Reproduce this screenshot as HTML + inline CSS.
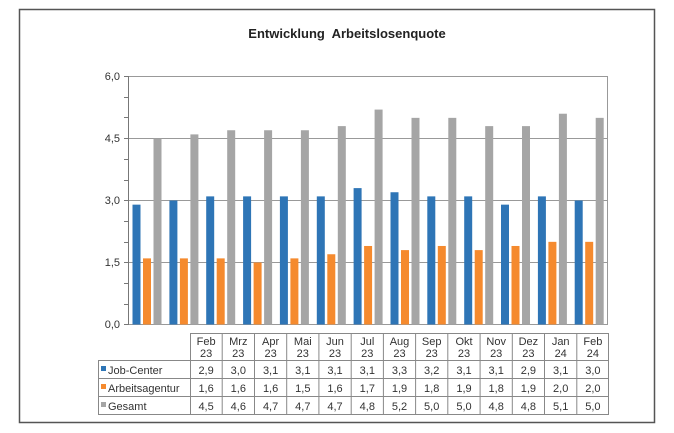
<!DOCTYPE html>
<html><head><meta charset="utf-8"><style>
body{margin:0;background:#fff;}
svg{display:block;font-family:"Liberation Sans",sans-serif;}
</style></head><body>
<svg width="674" height="433" viewBox="0 0 674 433" xmlns="http://www.w3.org/2000/svg">
<rect x="0" y="0" width="674" height="433" fill="#fff"/>
<rect x="19.5" y="9.5" width="635" height="413" fill="#fff" stroke="#555" stroke-width="1.5"/>
<text x="347" y="38" text-anchor="middle" font-size="13" font-weight="bold" fill="#222">Entwicklung&#160; Arbeitslosenquote</text>
<g stroke="#999" stroke-width="1">
<line x1="128" y1="76.5" x2="607" y2="76.5"/>
<line x1="128" y1="138.5" x2="607" y2="138.5"/>
<line x1="128" y1="200.5" x2="607" y2="200.5"/>
<line x1="128" y1="262.5" x2="607" y2="262.5"/>
<line x1="128" y1="324.5" x2="607" y2="324.5"/>
<line x1="607.5" y1="76" x2="607.5" y2="325"/>
<line x1="128.5" y1="76" x2="128.5" y2="325" stroke="#777"/>
</g>
<g stroke="#777">
<line x1="124" y1="76.5" x2="128" y2="76.5"/><line x1="124" y1="97.5" x2="128" y2="97.5"/><line x1="124" y1="117.5" x2="128" y2="117.5"/>
<line x1="124" y1="138.5" x2="128" y2="138.5"/><line x1="124" y1="159.5" x2="128" y2="159.5"/><line x1="124" y1="180.5" x2="128" y2="180.5"/>
<line x1="124" y1="200.5" x2="128" y2="200.5"/><line x1="124" y1="221.5" x2="128" y2="221.5"/><line x1="124" y1="242.5" x2="128" y2="242.5"/>
<line x1="124" y1="262.5" x2="128" y2="262.5"/><line x1="124" y1="283.5" x2="128" y2="283.5"/><line x1="124" y1="304.5" x2="128" y2="304.5"/>
<line x1="124" y1="324.5" x2="128" y2="324.5"/>
</g>
<g font-size="11" fill="#333" text-anchor="end">
<text x="120" y="80">6,0</text><text x="120" y="142">4,5</text><text x="120" y="204">3,0</text><text x="120" y="266">1,5</text><text x="120" y="328">0,0</text>
</g>
<g transform="translate(0,324.5) scale(1,-41.33)">
<g fill="#2e75b6">
<rect x="132.5" y="0" width="8" height="2.9"/><rect x="169.4" y="0" width="8" height="3.0"/><rect x="206.2" y="0" width="8" height="3.1"/><rect x="243.1" y="0" width="8" height="3.1"/><rect x="279.9" y="0" width="8" height="3.1"/><rect x="316.8" y="0" width="8" height="3.1"/><rect x="353.6" y="0" width="8" height="3.3"/><rect x="390.5" y="0" width="8" height="3.2"/><rect x="427.3" y="0" width="8" height="3.1"/><rect x="464.2" y="0" width="8" height="3.1"/><rect x="501" y="0" width="8" height="2.9"/><rect x="537.9" y="0" width="8" height="3.1"/><rect x="574.7" y="0" width="8" height="3.0"/>
</g>
<g fill="#f58a2e">
<rect x="143" y="0" width="8" height="1.6"/><rect x="179.9" y="0" width="8" height="1.6"/><rect x="216.7" y="0" width="8" height="1.6"/><rect x="253.6" y="0" width="8" height="1.5"/><rect x="290.4" y="0" width="8" height="1.6"/><rect x="327.3" y="0" width="8" height="1.7"/><rect x="364.1" y="0" width="8" height="1.9"/><rect x="401" y="0" width="8" height="1.8"/><rect x="437.8" y="0" width="8" height="1.9"/><rect x="474.7" y="0" width="8" height="1.8"/><rect x="511.5" y="0" width="8" height="1.9"/><rect x="548.4" y="0" width="8" height="2.0"/><rect x="585.2" y="0" width="8" height="2.0"/>
</g>
<g fill="#a5a5a5">
<rect x="153.5" y="0" width="8" height="4.5"/><rect x="190.4" y="0" width="8" height="4.6"/><rect x="227.2" y="0" width="8" height="4.7"/><rect x="264.1" y="0" width="8" height="4.7"/><rect x="300.9" y="0" width="8" height="4.7"/><rect x="337.8" y="0" width="8" height="4.8"/><rect x="374.6" y="0" width="8" height="5.2"/><rect x="411.5" y="0" width="8" height="5.0"/><rect x="448.3" y="0" width="8" height="5.0"/><rect x="485.2" y="0" width="8" height="4.8"/><rect x="522" y="0" width="8" height="4.8"/><rect x="558.9" y="0" width="8" height="5.1"/><rect x="595.7" y="0" width="8" height="5.0"/>
</g>
</g>
<g stroke="#888" fill="none">
<rect x="190.5" y="333.5" width="418" height="81"/>
<rect x="98.5" y="360.5" width="510" height="54"/>
<path d="M222.2 333V414M254.5 333V414M286.7 333V414M318.9 333V414M351.2 333V414M383.4 333V414M415.6 333V414M447.8 333V414M480.1 333V414M512.3 333V414M544.5 333V414M576.8 333V414M98 378.5H609M98 396.5H609"/>
</g>
<g font-size="11" fill="#333" text-anchor="middle">
<text x="206.1" y="345">Feb</text><text x="238.3" y="345">Mrz</text><text x="270.6" y="345">Apr</text><text x="302.8" y="345">Mai</text><text x="335" y="345">Jun</text><text x="367.3" y="345">Jul</text><text x="399.5" y="345">Aug</text><text x="431.7" y="345">Sep</text><text x="464" y="345">Okt</text><text x="496.2" y="345">Nov</text><text x="528.4" y="345">Dez</text><text x="560.7" y="345">Jan</text><text x="592.9" y="345">Feb</text>
<text x="206.1" y="357">23</text><text x="238.3" y="357">23</text><text x="270.6" y="357">23</text><text x="302.8" y="357">23</text><text x="335" y="357">23</text><text x="367.3" y="357">23</text><text x="399.5" y="357">23</text><text x="431.7" y="357">23</text><text x="464" y="357">23</text><text x="496.2" y="357">23</text><text x="528.4" y="357">23</text><text x="560.7" y="357">24</text><text x="592.9" y="357">24</text>
<text x="206.1" y="374">2,9</text><text x="238.3" y="374">3,0</text><text x="270.6" y="374">3,1</text><text x="302.8" y="374">3,1</text><text x="335" y="374">3,1</text><text x="367.3" y="374">3,1</text><text x="399.5" y="374">3,3</text><text x="431.7" y="374">3,2</text><text x="464" y="374">3,1</text><text x="496.2" y="374">3,1</text><text x="528.4" y="374">2,9</text><text x="560.7" y="374">3,1</text><text x="592.9" y="374">3,0</text>
<text x="206.1" y="392">1,6</text><text x="238.3" y="392">1,6</text><text x="270.6" y="392">1,6</text><text x="302.8" y="392">1,5</text><text x="335" y="392">1,6</text><text x="367.3" y="392">1,7</text><text x="399.5" y="392">1,9</text><text x="431.7" y="392">1,8</text><text x="464" y="392">1,9</text><text x="496.2" y="392">1,8</text><text x="528.4" y="392">1,9</text><text x="560.7" y="392">2,0</text><text x="592.9" y="392">2,0</text>
<text x="206.1" y="410">4,5</text><text x="238.3" y="410">4,6</text><text x="270.6" y="410">4,7</text><text x="302.8" y="410">4,7</text><text x="335" y="410">4,7</text><text x="367.3" y="410">4,8</text><text x="399.5" y="410">5,2</text><text x="431.7" y="410">5,0</text><text x="464" y="410">5,0</text><text x="496.2" y="410">4,8</text><text x="528.4" y="410">4,8</text><text x="560.7" y="410">5,1</text><text x="592.9" y="410">5,0</text>
</g>
<g font-size="11" fill="#333">
<rect x="101" y="366" width="5" height="5" fill="#2e75b6"/><text x="108" y="374">Job-Center</text>
<rect x="101" y="384" width="5" height="5" fill="#f58a2e"/><text x="108" y="392">Arbeitsagentur</text>
<rect x="101" y="402" width="5" height="5" fill="#a5a5a5"/><text x="108" y="410">Gesamt</text>
</g>
</svg>
</body></html>
